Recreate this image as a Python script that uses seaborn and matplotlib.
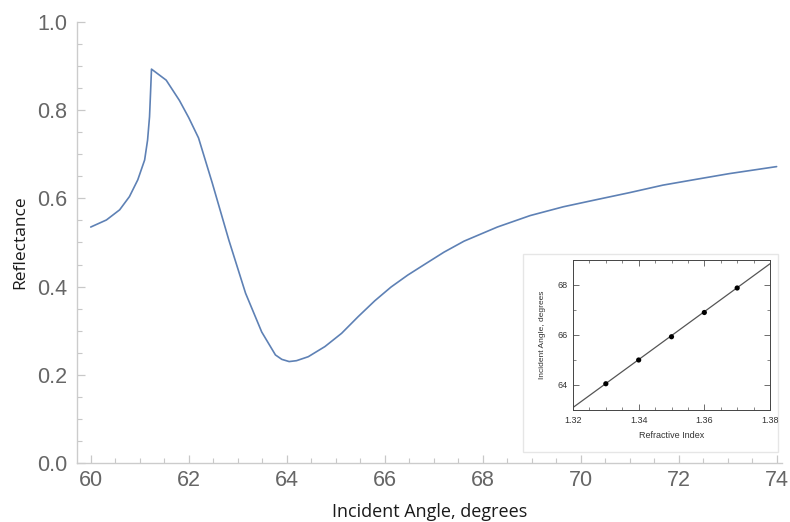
import numpy as np
import pandas as pd
import matplotlib
matplotlib.use("Agg")
import matplotlib.pyplot as plt
import matplotlib.patches as mpatches
from matplotlib.ticker import MultipleLocator
import seaborn as sns

# main curve: reflectance vs incident angle
angle = [60.0, 60.32, 60.59, 60.79, 60.96, 61.10, 61.16, 61.20, 61.22, 61.24,
         61.54, 61.81, 62.0, 62.2, 62.48, 62.82, 63.16, 63.49, 63.77, 63.9,
         64.05, 64.2, 64.44, 64.78, 65.12, 65.46, 65.80, 66.13, 66.47, 66.81,
         67.21, 67.62, 68.30, 68.97, 69.65, 70.32, 71.0, 71.68, 72.35, 73.03, 74.0]
reflectance = [0.535, 0.551, 0.574, 0.604, 0.642, 0.687, 0.732, 0.785, 0.838, 0.893,
               0.868, 0.822, 0.783, 0.737, 0.635, 0.505, 0.385, 0.297, 0.245, 0.235,
               0.230, 0.232, 0.241, 0.264, 0.294, 0.332, 0.368, 0.399, 0.426, 0.450,
               0.478, 0.503, 0.535, 0.561, 0.581, 0.597, 0.613, 0.630, 0.643, 0.656, 0.672]

# inset: resonance angle vs refractive index
ref_index = [1.33, 1.34, 1.35, 1.36, 1.37]
res_angle = [64.05, 65.0, 65.93, 66.9, 67.88]
fit_index = [1.32, 1.38]
fit_angle = [63.1, 68.85]

df = pd.DataFrame({"angle": angle, "R": reflectance})
pts = pd.DataFrame({"n": ref_index, "theta": res_angle})
fit = pd.DataFrame({"n": fit_index, "theta": fit_angle})

sns.set_style("white")
plt.rcParams["font.family"] = ["Liberation Sans", "DejaVu Sans"]

fig = plt.figure(figsize=(7.9, 5.22), dpi=100)
ax = fig.add_axes([0.0975, 0.113, 0.893, 0.845])

sns.lineplot(data=df, x="angle", y="R", ax=ax, color="#5e81b5", linewidth=1.2, sort=False)

ax.set_xlim(59.72, 74.12)
ax.set_ylim(0, 1.0)
ax.xaxis.set_major_locator(MultipleLocator(2))
ax.xaxis.set_minor_locator(MultipleLocator(0.5))
ax.set_yticks([0, 0.2, 0.4, 0.6, 0.8, 1.0])
ax.set_yticklabels(["0.0", "0.2", "0.4", "0.6", "0.8", "1.0"])
ax.yaxis.set_minor_locator(MultipleLocator(0.05))
ax.tick_params(which="both", direction="in", bottom=True, left=True,
               color="#c8c8c8", labelcolor="#666666", labelsize=15.5)
ax.tick_params(which="major", length=6, width=0.9)
ax.tick_params(which="minor", length=3.5, width=0.8)
ax.tick_params(axis="y", pad=7)
ax.tick_params(axis="x", pad=5)
for s in ["top", "right"]:
    ax.spines[s].set_visible(False)
for s in ["left", "bottom"]:
    ax.spines[s].set_color("#cccccc")
    ax.spines[s].set_linewidth(1.0)

ax.set_xlabel("Incident Angle, degrees", fontsize=13, family=["Open Sans", "DejaVu Sans"],
              color="#1a1a1a", labelpad=9)
ax.set_ylabel("Reflectance", fontsize=12.5, family=["Open Sans", "DejaVu Sans"],
              color="#1a1a1a", labelpad=6)

# white frame behind the inset
frame = mpatches.Rectangle((523 / 790, 1 - 452 / 522), (778 - 523) / 790, (452 - 254) / 522,
                           transform=fig.transFigure, facecolor="white",
                           edgecolor="#e6e6e6", linewidth=1.0, zorder=2)
fig.patches.append(frame)

ins = fig.add_axes([573 / 790, 1 - 410 / 522, (770 - 573) / 790, (410 - 260) / 522])
ins.set_zorder(3)
sns.lineplot(data=fit, x="n", y="theta", ax=ins, color="#555555", linewidth=0.9)
sns.scatterplot(data=pts, x="n", y="theta", ax=ins, color="black", s=14, edgecolor="none",
                zorder=4)
ins.set_xlim(1.32, 1.38)
ins.set_ylim(63, 69)
ins.set_xticks([1.32, 1.34, 1.36, 1.38])
ins.set_xticklabels(["1.32", "1.34", "1.36", "1.38"])
ins.xaxis.set_minor_locator(MultipleLocator(0.005))
ins.set_yticks([64, 66, 68])
ins.yaxis.set_minor_locator(MultipleLocator(1))
ins.tick_params(which="both", direction="in", bottom=True, left=True, top=True, right=True,
                color="#555555", labelcolor="#333333", labelsize=6.5, pad=4)
ins.tick_params(which="major", length=4, width=0.6)
ins.tick_params(which="minor", length=2.5, width=0.5)
for s in ins.spines.values():
    s.set_color("#444444")
    s.set_linewidth(0.7)
ins.set_xlabel("Refractive Index", fontsize=6.5, color="#333333", labelpad=5)
ins.set_ylabel("Incident Angle, degrees", fontsize=6, color="#333333", labelpad=8)

fig.savefig("out.png", dpi=100)
